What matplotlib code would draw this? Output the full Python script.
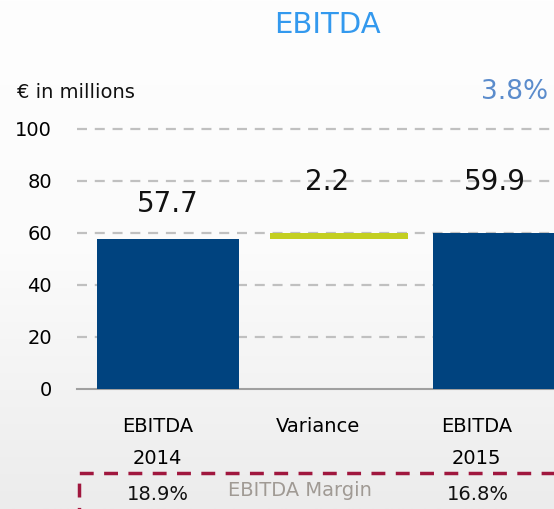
import numpy as np
import matplotlib.pyplot as plt
import matplotlib.transforms as mtransforms

categories = ["EBITDA\n2014", "Variance", "EBITDA\n2015"]
start_value = 57.7
end_value = 59.9
variance = 2.2
margins = ["18.9%", "16.8%"]
growth = "3.8%"

navy = "#00437f"
lime = "#c3cf21"
fnt = "DejaVu Sans"
plt.rcParams["font.family"] = [fnt]

fig = plt.figure(figsize=(5.54, 5.09), dpi=100)

# background gradient
bg = fig.add_axes([0, 0, 1, 1], zorder=-10)
grad = np.linspace(0, 1, 256).reshape(-1, 1)
bg.imshow(grad, aspect="auto", cmap=plt.matplotlib.colors.LinearSegmentedColormap.from_list(
    "g", ["#fefefe", "#fbfbfb", "#ececec"]), extent=[0, 1, 0, 1], origin="upper")
bg.axis("off")

ax = fig.add_axes([77 / 554, 120 / 509, 477 / 554, 260 / 509])
ax.patch.set_alpha(0)

x = np.arange(len(categories))
w = 0.845
ax.bar(x[0], start_value, width=w, color=navy, zorder=3)
ax.bar(x[1] + 0.02, variance, bottom=start_value, width=w * 0.97, color=lime, zorder=3)
ax.bar(x[2], end_value, width=w, color=navy, zorder=3)

ax.set_xlim(-0.54, 2.30)
ax.set_ylim(0, 100)
ax.set_yticks([0, 20, 40, 60, 80, 100])
for yv in [20, 40, 60, 80, 100]:
    ax.axhline(yv, color="#c0c0c0", lw=1.6, ls=(0, (4.5, 3.5)), zorder=1, clip_on=False)

for s in ["top", "right", "left"]:
    ax.spines[s].set_visible(False)
ax.spines["bottom"].set_color("#a0a0a0")
ax.spines["bottom"].set_linewidth(1.5)
ax.tick_params(axis="y", length=0, labelsize=14, pad=18)
ax.tick_params(axis="x", length=0, labelsize=14, pad=20)
ax.set_xticks(x)
ax.set_xticklabels(categories, linespacing=1.85)
shifts = [-10, -18, -27]
for lab, dx in zip(ax.get_xticklabels(), shifts):
    lab.set_transform(lab.get_transform() + mtransforms.ScaledTranslation(dx / 100, 0, fig.dpi_scale_trans))

# value labels
vals = [start_value, variance, end_value]
tops = [start_value, start_value + variance, end_value]
offs = [15, 27, 27]
dxs = [0, -6, -6]
for xi, v, t, o, dx in zip(x, vals, tops, offs, dxs):
    ax.annotate(f"{v:.1f}", (xi, t), xytext=(dx, o), textcoords="offset points",
                ha="center", va="bottom", fontsize=20, color="#111111")

fig.text(327 / 554, 1 - 25 / 509, "EBITDA", ha="center", va="center", fontsize=21, color="#3399ee")
fig.text(17 / 554, 1 - 92 / 509, "€ in millions", ha="left", va="center", fontsize=14, color="#111111")
fig.text(515 / 554, 1 - 92 / 509, growth, ha="center", va="center", fontsize=19, color="#5b8ccc")

# margin box
box = plt.Rectangle((79 / 554, -0.05), 0.9, (0.05 + 1 - 473 / 509), transform=fig.transFigure,
                    fill=False, ec="#a0173e", lw=2.5, ls=(0, (4, 3)))
fig.add_artist(box)
fig.text(300 / 554, 1 - 491 / 509, "EBITDA Margin", ha="center", va="center", fontsize=14, color="#a09a94")
fig.text(158 / 554, 1 - 494 / 509, margins[0], ha="center", va="center", fontsize=14, color="#111111")
fig.text(478 / 554, 1 - 494 / 509, margins[1], ha="center", va="center", fontsize=14, color="#111111")

fig.savefig("out.png", dpi=100)
